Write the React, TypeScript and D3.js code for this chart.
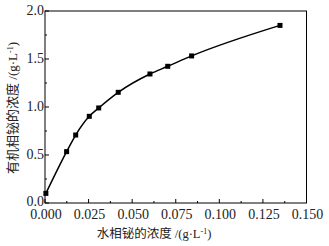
import React from "react";
import * as d3 from "d3";

const xs = [0.0005, 0.0124, 0.0176, 0.0254, 0.0308, 0.042, 0.0602, 0.0704, 0.0841, 0.1348];
const ys = [0.10, 0.535, 0.708, 0.903, 0.99, 1.153, 1.344, 1.424, 1.532, 1.85];
const xTicks = [0, 0.025, 0.05, 0.075, 0.1, 0.125, 0.15];
const yTicks = [0, 0.5, 1.0, 1.5, 2.0];

export default function App() {
  const W = 329, H = 246;
  const L = 45, R = 306.5, T = 11, B = 203;
  const x = d3.scaleLinear().domain([0, 0.15]).range([L, R]);
  const y = d3.scaleLinear().domain([0, 2]).range([B, T]);
  const pts = xs.map((v, i) => [x(v), y(ys[i])] as [number, number]);
  const line = d3.line().curve(d3.curveMonotoneX)(pts) || "";
  const xMinor = d3.range(0, 7).map((i) => 0.0125 + i * 0.025).filter((v) => v < 0.15);
  const yMinor = [0.25, 0.75, 1.25, 1.75];
  const serif = "'Liberation Serif', 'Times New Roman', serif";
  const cjk = "'Liberation Serif', 'Noto Sans CJK SC', serif";
  return (
    <svg width={W} height={H} style={{ position: "absolute", left: 0, top: 0, background: "#fff" }}>
      <rect x={L} y={T} width={R - L} height={B - T} fill="none" stroke="#000" strokeWidth={1} />
      {xTicks.map((t) => (
        <g key={"xt" + t}>
          <line x1={x(t)} x2={x(t)} y1={B} y2={B - 4} stroke="#000" />
          <text x={x(t) + 1} y={B + 15.5} fontSize={14} fontFamily={serif} textAnchor="middle" fill="#222">
            {t.toFixed(3)}
          </text>
        </g>
      ))}
      {xMinor.map((t) => (
        <line key={"xm" + t} x1={x(t)} x2={x(t)} y1={B} y2={B - 2} stroke="#000" />
      ))}
      {yTicks.map((t) => (
        <g key={"yt" + t}>
          <line x1={L} x2={L + 4} y1={y(t)} y2={y(t)} stroke="#000" />
          <text x={L - 1} y={y(t) + (t === 0 ? 2.5 : 4)} fontSize={14} fontFamily={serif} textAnchor="end" fill="#222">
            {t.toFixed(1)}
          </text>
        </g>
      ))}
      {yMinor.map((t) => (
        <line key={"ym" + t} x1={L} x2={L + 2} y1={y(t)} y2={y(t)} stroke="#000" />
      ))}
      <path d={line} fill="none" stroke="#000" strokeWidth={1.5} />
      {pts.map((p, i) => (
        <rect key={i} x={p[0] - 2.5} y={p[1] - 2.5} width={5} height={5} fill="#000" />
      ))}
      <text x={154} y={238} fontSize={12.5} fontFamily={cjk} textAnchor="middle" fill="#222">
        水相铋的浓度 /(g·L<tspan dy={-4} fontSize={8}>-1</tspan><tspan dy={4}>)</tspan>
      </text>
      <text
        transform={`translate(17,108) rotate(-90)`}
        fontSize={13}
        fontFamily={cjk}
        textAnchor="middle"
        fill="#222"
      >
        有机相铋的浓度 /(g·L<tspan dy={-4} fontSize={8}>-1</tspan><tspan dy={4}>)</tspan>
      </text>
    </svg>
  );
}
